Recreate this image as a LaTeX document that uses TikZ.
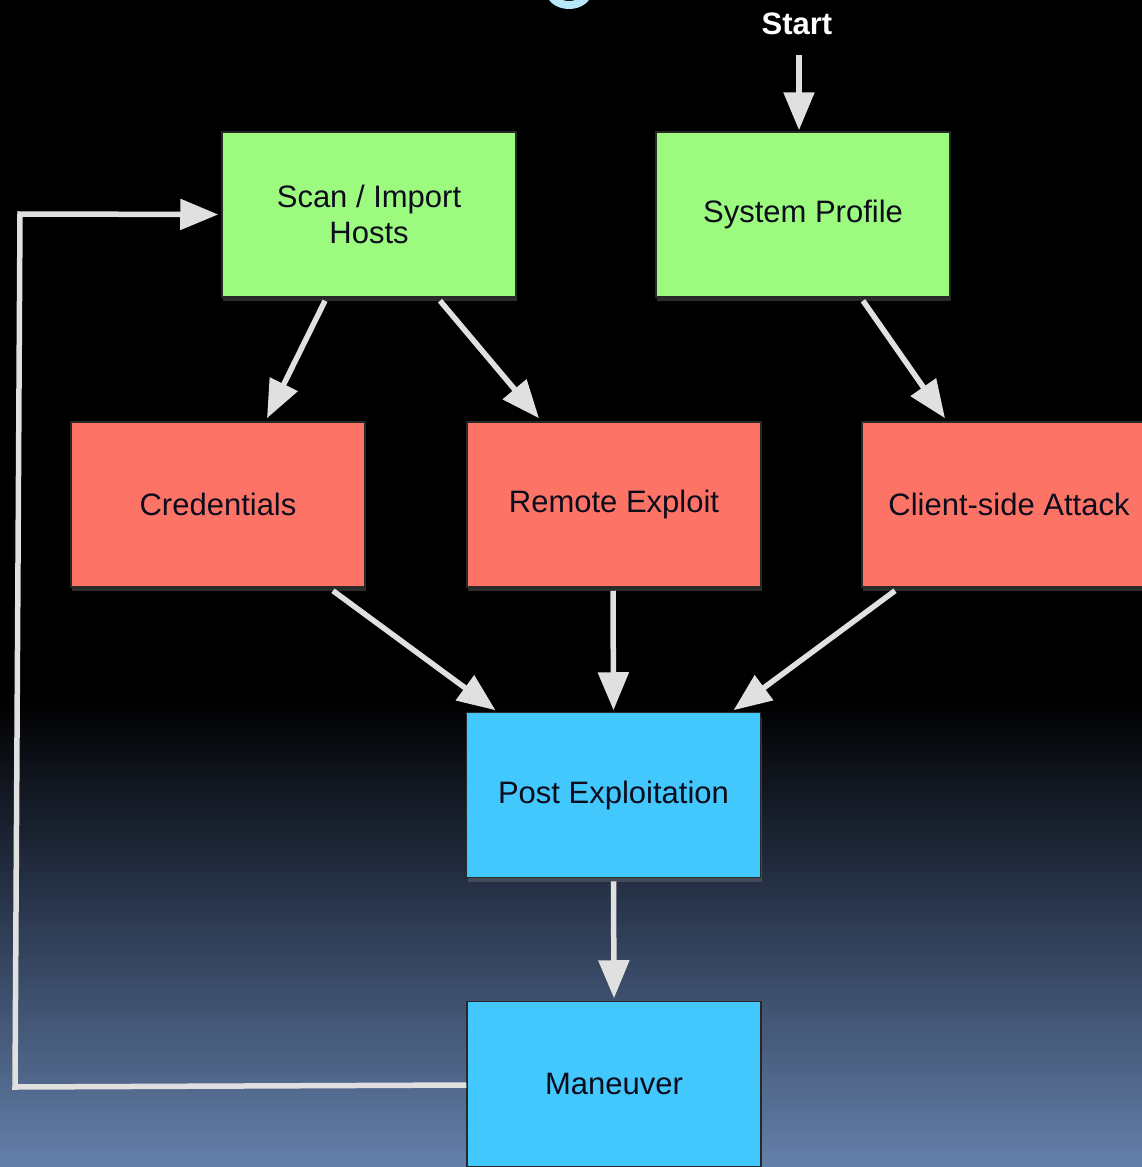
\documentclass[tikz,border=0pt]{standalone}
\usepackage{fontspec}
\setmainfont{Liberation Sans}
\usetikzlibrary{arrows.meta,shadows}
\definecolor{boxgreen}{RGB}{156,250,127}
\definecolor{boxred}{RGB}{253,116,103}
\definecolor{boxblue}{RGB}{66,200,253}
\definecolor{arrowgray}{RGB}{224,224,224}
\definecolor{txtdark}{RGB}{12,12,28}
\definecolor{bgbottom}{RGB}{100,128,170}
\definecolor{bgmid}{RGB}{40,52,74}
\definecolor{titlecyan}{RGB}{184,230,250}
\begin{document}
\begin{tikzpicture}[x=1pt,y=-1pt,
  boxstyle/.style={draw={rgb,255:red,40;green,40;blue,40}, line width=1.5pt, minimum width=294pt, minimum height=165pt,
    inner sep=0pt, align=center, text=txtdark, font=\fontsize{31}{36}\selectfont,
    drop shadow={shadow xshift=1pt, shadow yshift=-4pt, opacity=0.35}},
  greenbox/.style={boxstyle, fill=boxgreen},
  redbox/.style={boxstyle, fill=boxred},
  bluebox/.style={boxstyle, fill=boxblue},
  flow/.style={draw=arrowgray, line width=5.5pt, -{Triangle[length=38pt,width=30pt]}}
]
\useasboundingbox (0,0) rectangle (1142,1167);
\clip (0,0) rectangle (1142,1167);
% background
\fill[black] (0,0) rectangle (1142,700);
\shade[top color=black, bottom color=bgmid] (0,699) rectangle (1142,900);
\shade[top color=bgmid, bottom color=bgbottom] (0,899) rectangle (1142,1167);
% fragment of title glyph
\draw[titlecyan, line width=8pt] (569,-9) ellipse [x radius=19pt, y radius=14pt];

% nodes
\node (start) at (797,24) {\textcolor{white}{\fontsize{31}{36}\selectfont\bfseries Start}};
\coordinate (startarrow) at (799,55);
\node[greenbox] (scan) at (369,214.5) {Scan / Import\\Hosts};
\node[greenbox] (sys) at (803,214.5) {System Profile};
\node[redbox] (cred) at (218,504.5) {Credentials};
\node[redbox] (remote) at (614,504.5) {Remote Exploit};
\node[redbox] (client) at (1009,504.5) {Client-side Attack};
\node[bluebox] (post) at (613.5,795) {Post Exploitation};
\node[bluebox] (man) at (614,1084) {Maneuver};

\coordinate (loopA) at (15,1087);
\coordinate (loopB) at (20,214);

% connectors (note: yshift is in canvas units, positive = up on the page)
\draw[flow] (startarrow) -- ([xshift=-4pt,yshift=1pt]sys.north);
\draw[flow] ([xshift=-44pt,yshift=-3pt]scan.south) -- ([xshift=49pt,yshift=3pt]cred.north);
\draw[flow] ([xshift=71pt,yshift=-3pt]scan.south) -- ([xshift=-75pt,yshift=3pt]remote.north);
\draw[flow] ([xshift=60pt,yshift=-3pt]sys.south) -- ([xshift=-64pt,yshift=3pt]client.north);
\draw[flow] ([xshift=115pt,yshift=-3pt]cred.south) -- ([xshift=-118pt,yshift=1.5pt]post.north);
\draw[flow] ([xshift=-1pt,yshift=-3pt]remote.south) -- ([xshift=0pt,yshift=1.5pt]post.north);
\draw[flow] ([xshift=-114pt,yshift=-3pt]client.south) -- ([xshift=120pt,yshift=1.5pt]post.north);
\draw[flow] ([yshift=-3pt]post.south) -- ([yshift=2.5pt]man.north);
\draw[flow] (man.west |- 0,1085) -- (loopA) -- (loopB) -- ([xshift=-3pt]scan.west);
\end{tikzpicture}
\end{document}
